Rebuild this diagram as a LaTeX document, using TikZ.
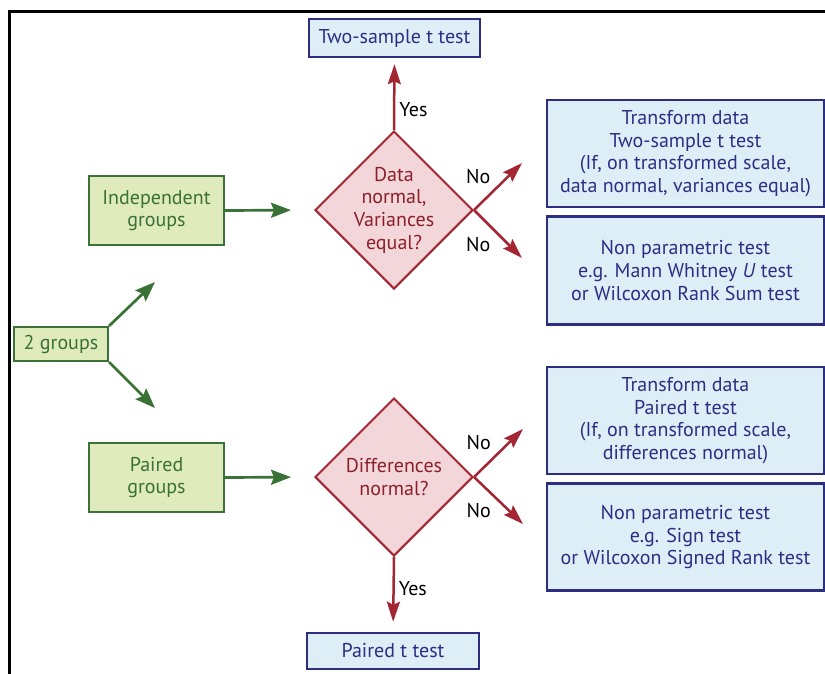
\documentclass[tikz,border=0pt]{standalone}
\usepackage{fontspec}
\setmainfont{PT Sans}
\usepackage{tikz}
\usetikzlibrary{calc}
\usetikzlibrary{arrows.meta}
\usetikzlibrary{positioning}
\usetikzlibrary{shapes.geometric}
\definecolor{grpfill}{HTML}{DFEABD}
\definecolor{grpdraw}{HTML}{3A7136}
\definecolor{decfill}{HTML}{F3D6D9}
\definecolor{decdraw}{HTML}{A32632}
\definecolor{testfill}{HTML}{DDEEF6}
\definecolor{testdraw}{HTML}{2D2E83}
\newcommand\flowfont{\fontsize{20}{22.7}\selectfont}
\tikzset{%
  grpbox/.style={rectangle,fill=grpfill,draw=grpdraw,line width=2pt,
    text=grpdraw,align=center,font=\flowfont,inner sep=0pt},
  decision/.style={diamond,fill=decfill,draw=decdraw,line width=2pt,
    text=decdraw!85!black,align=center,font=\flowfont,
    minimum width=158pt,minimum height=158pt,inner sep=-20pt},
  testbox/.style={rectangle,fill=testfill,draw=testdraw,line width=2.5pt,
    text=testdraw,align=center,font=\flowfont,inner sep=0pt},
  grparrow/.style={draw=grpdraw,line width=2.7pt,
    -{Stealth[length=20pt,width=15pt,inset=3pt]}},
  decarrow/.style={draw=decdraw,line width=2.5pt,
    -{Stealth[length=20pt,width=13pt,inset=3pt]}},
  answer/.style={font=\flowfont,text=black,inner sep=4pt}
}

\begin{document}
\begin{tikzpicture}[x=1pt,y=-1pt]
    \useasboundingbox (0,0) rectangle (825,673);
    \clip (0,0) rectangle (825,673);
    \draw[line width=3pt] (9,700) |- (850,11);
    % groups
    \node[grpbox,minimum width=94pt,minimum height=34pt] (two) at (61,344) {2 groups};
    \node[grpbox,minimum width=135pt,minimum height=69pt] (indep) at (156.5,210.5) {Independent\\groups};
    \node[grpbox,minimum width=135pt,minimum height=69pt] (paired) at (156.5,477.5) {Paired\\groups};
    % decisions
    \node[decision] (dqa) at (394,210) {Data\\normal,\\Variances\\equal?};
    \node[decision] (dqb) at (394,477) {Differences\\normal?};
    % tests
    \node[testbox,minimum width=171pt,minimum height=38pt] (twot) at (394.5,38) {Two-sample t test};
    \node[testbox,minimum width=172pt,minimum height=36pt] (pairt) at (393,651) {Paired t test};
    \node[testbox,minimum width=277pt,minimum height=107pt] (trfa) at (685.5,153.5)
        {Transform data\\Two-sample t test\\(If, on transformed scale,\\data normal, variances equal)};
    \node[testbox,minimum width=277pt,minimum height=108pt,below=7pt of trfa] (npa)
        {Non parametric test\\e.g. Mann Whitney \textit{U} test\\or Wilcoxon Rank Sum test};
    \node[testbox,minimum width=277pt,minimum height=107pt] (trfb) at (685.5,420.5)
        {Transform data\\Paired t test\\(If, on transformed scale,\\differences normal)};
    \node[testbox,minimum width=277pt,minimum height=107pt,below=7pt of trfb] (npb)
        {Non parametric test\\e.g. Sign test\\or Wilcoxon Signed Rank test};
    % free arrow ends
    \coordinate (twoup) at (155,282);
    \coordinate (twodown) at (155,408);
    \coordinate (noaup) at (522,163);
    \coordinate (noadown) at (522,258);
    \coordinate (nobup) at (523,429);
    \coordinate (nobdown) at (523,524);
    \draw[grparrow] (two.north east) -- (twoup);
    \draw[grparrow] (two.south east) -- (twodown);
    \draw[grparrow,shorten >=23pt] (indep.east) -- (dqa.west);
    \draw[grparrow,shorten >=23pt] (paired.east) -- (dqb.west);
    \draw[decarrow,shorten >=6pt] (dqa.north) -- node[answer,right,pos=.29] {Yes} (twot.south);
    \draw[decarrow,shorten >=10pt] (dqb.south) -- node[answer,right,pos=.42] {Yes} (pairt.north);
    \draw[decarrow] (dqa.east) -- node[answer,above left,pos=.45] {No} (noaup);
    \draw[decarrow] (dqa.east) -- node[answer,below left,pos=.45] {No} (noadown);
    \draw[decarrow] (dqb.east) -- node[answer,above left,pos=.45] {No} (nobup);
    \draw[decarrow] (dqb.east) -- node[answer,below left,pos=.45] {No} (nobdown);
\end{tikzpicture}
\end{document}
